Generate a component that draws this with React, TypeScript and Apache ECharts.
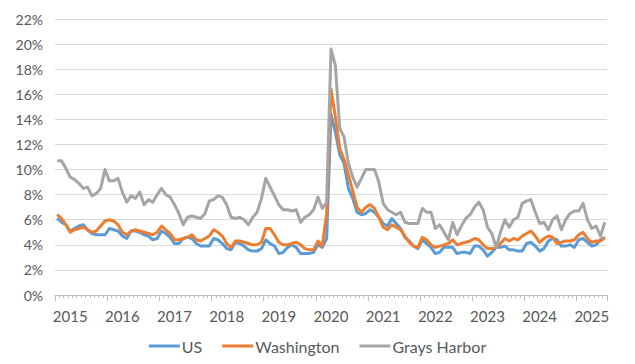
import React, { useEffect, useRef } from "react";
import * as echarts from "echarts";

// Monthly unemployment rate (%), Jan 2015 – Jul 2025, not seasonally adjusted
const startYear = 2015;
const yearLabels = ["2015", "2016", "2017", "2018", "2019", "2020", "2021", "2022", "2023", "2024", "2025"];
const seriesNames = ["US", "Washington", "Grays Harbor"];
const yTicks = [0, 2, 4, 6, 8, 10, 12, 14, 16, 18, 20, 22];

const usRate = [
  6.1, 5.8, 5.6, 5.1, 5.3, 5.5, 5.6, 5.2, 4.9, 4.8, 4.8, 4.8,
  5.3, 5.2, 5.1, 4.7, 4.5, 5.1, 5.1, 5.0, 4.8, 4.7, 4.4, 4.5,
  5.1, 4.9, 4.6, 4.1, 4.1, 4.5, 4.6, 4.5, 4.1, 3.9, 3.9, 3.9,
  4.5, 4.4, 4.1, 3.7, 3.6, 4.2, 4.1, 3.9, 3.6, 3.5, 3.5, 3.7,
  4.4, 4.1, 3.9, 3.3, 3.4, 3.8, 4.0, 3.8, 3.3, 3.3, 3.3, 3.4,
  4.0, 3.8, 4.5, 14.4, 13.0, 11.2, 10.5, 8.5, 7.7, 6.6, 6.4, 6.5,
  6.8, 6.6, 6.2, 5.7, 5.5, 6.1, 5.7, 5.3, 4.6, 4.3, 3.9, 3.7,
  4.4, 4.1, 3.8, 3.3, 3.4, 3.8, 3.8, 3.8, 3.3, 3.4, 3.4, 3.3,
  3.9, 3.9, 3.6, 3.1, 3.4, 3.8, 3.8, 3.9, 3.6, 3.6, 3.5, 3.5,
  4.1, 4.2, 3.9, 3.5, 3.7, 4.3, 4.5, 4.4, 3.9, 3.9, 4.0, 3.8,
  4.4, 4.5, 4.2, 3.9, 4.0, 4.4, 4.6,
];

const washingtonRate = [
  6.4, 6.1, 5.6, 5.0, 5.2, 5.3, 5.4, 5.2, 5.0, 5.1, 5.5, 5.9,
  6.0, 5.9, 5.6, 5.0, 4.8, 5.1, 5.2, 5.1, 5.0, 4.9, 4.8, 5.0,
  5.5, 5.2, 4.9, 4.4, 4.4, 4.5, 4.6, 4.8, 4.4, 4.3, 4.5, 4.7,
  5.2, 5.0, 4.7, 4.1, 3.8, 4.3, 4.3, 4.2, 4.1, 4.0, 4.0, 4.2,
  5.3, 5.3, 4.8, 4.2, 4.0, 4.0, 4.1, 4.2, 4.0, 3.7, 3.6, 3.6,
  4.3, 3.9, 6.5, 16.4, 14.2, 11.7, 10.8, 9.6, 8.3, 7.0, 6.6, 7.0,
  7.2, 6.9, 6.2, 5.4, 5.2, 5.6, 5.4, 5.2, 4.7, 4.2, 3.9, 3.8,
  4.6, 4.4, 4.0, 3.8, 3.9, 4.0, 4.1, 4.4, 4.0, 4.1, 4.2, 4.3,
  4.5, 4.4, 4.0, 3.7, 3.7, 3.8, 4.1, 4.5, 4.3, 4.5, 4.4, 4.7,
  4.9, 5.1, 4.7, 4.2, 4.5, 4.7, 4.6, 4.1, 4.2, 4.3, 4.3, 4.4,
  4.8, 5.0, 4.5, 4.2, 4.3, 4.3, 4.6,
];

const graysHarborRate = [
  10.7, 10.7, 10.1, 9.4, 9.2, 8.9, 8.5, 8.6, 7.9, 8.1, 8.5, 10.0,
  9.1, 9.1, 9.3, 8.2, 7.4, 7.9, 7.7, 8.2, 7.2, 7.6, 7.4, 8.0,
  8.5, 8.0, 7.8, 7.2, 6.5, 5.6, 6.2, 6.3, 6.2, 6.1, 6.5, 7.5,
  7.6, 7.9, 7.8, 7.2, 6.2, 6.1, 6.2, 6.0, 5.6, 6.2, 6.6, 7.7,
  9.3, 8.6, 7.9, 7.2, 6.8, 6.8, 6.7, 6.8, 5.8, 6.2, 6.4, 6.8,
  7.8, 6.9, 7.4, 19.6, 18.3, 13.3, 12.6, 10.5, 9.4, 8.6, 9.3, 10.0,
  10.0, 10.0, 9.0, 7.3, 6.8, 6.6, 6.4, 6.6, 5.8, 5.7, 5.7, 5.7,
  6.9, 6.6, 6.6, 5.3, 5.6, 5.0, 4.4, 5.8, 4.8, 5.5, 6.1, 6.4,
  7.0, 7.4, 6.8, 5.4, 4.9, 3.8, 5.0, 6.0, 5.4, 6.0, 6.2, 7.3,
  7.5, 7.6, 6.6, 5.7, 5.8, 5.2, 6.0, 6.3, 5.2, 6.0, 6.5, 6.7,
  6.7, 7.3, 6.0, 5.3, 5.5, 4.7, 5.8,
];

const colors = ["#5B9BD5", "#ED7D31", "#A5A5A5"];

const months: string[] = usRate.map((_, i) => {
  const y = startYear + Math.floor(i / 12);
  const m = (i % 12) + 1;
  return `${y}-${m < 10 ? "0" + m : m}`;
});

const FONT = "Lato, 'Open Sans', sans-serif";
const TEXT_COLOR = "#595959";

export default function App() {
  const ref = useRef<HTMLDivElement>(null);
  useEffect(() => {
    if (!ref.current) return;
    const chart = echarts.init(ref.current, null, { renderer: "svg" });
    const allSeries = [usRate, washingtonRate, graysHarborRate];
    chart.setOption({
      animation: false,
      backgroundColor: "#ffffff",
      textStyle: { fontFamily: FONT },
      grid: { left: 55, right: 28, top: 19, bottom: 69 },
      legend: {
        bottom: 5,
        left: "center",
        icon: "rect",
        itemWidth: 31,
        itemHeight: 3,
        itemGap: 20,
        data: seriesNames,
        textStyle: { fontFamily: FONT, fontSize: 16, color: TEXT_COLOR, padding: [0, 0, 0, -3] },
      },
      xAxis: [
        {
          type: "category",
          data: months,
          boundaryGap: true,
          position: "bottom",
          axisLine: { show: true, lineStyle: { color: "#BFBFBF", width: 1 } },
          axisTick: { show: true, interval: 0, length: 3, lineStyle: { color: "#BFBFBF" } },
          axisLabel: {
            interval: (i: number) => i % 12 === 3,
            formatter: (v: string) => {
              const y = v.slice(0, 4);
              return yearLabels.indexOf(y) >= 0 ? y : "";
            },
            fontFamily: FONT,
            fontSize: 15,
            color: TEXT_COLOR,
            margin: 13,
          },
          splitLine: { show: false },
        },
        {
          type: "category",
          data: months,
          boundaryGap: true,
          position: "bottom",
          axisLine: { show: false },
          axisTick: { show: true, interval: (i: number) => i % 12 === 0, length: 6, lineStyle: { color: "#BFBFBF" } },
          axisLabel: { show: false },
          splitLine: { show: false },
        },
      ],
      yAxis: {
        type: "value",
        min: yTicks[0],
        max: yTicks[yTicks.length - 1],
        interval: 2,
        axisLine: { show: false },
        axisTick: { show: false },
        axisLabel: {
          formatter: "{value}%",
          fontFamily: FONT,
          fontSize: 14,
          color: TEXT_COLOR,
          margin: 12,
        },
        splitLine: { lineStyle: { color: "#D9D9D9", width: 1 } },
      },
      series: allSeries.map((d, k) => ({
        name: seriesNames[k],
        type: "line",
        xAxisIndex: 0,
        data: d,
        showSymbol: false,
        symbol: "none",
        color: colors[k],
        lineStyle: { width: 3, color: colors[k], join: "round" },
      })),
    });
    return () => chart.dispose();
  }, []);
  return (
    <div
      ref={ref}
      style={{ position: "fixed", left: 0, top: 0, width: 635, height: 364, background: "#fff" }}
    />
  );
}
